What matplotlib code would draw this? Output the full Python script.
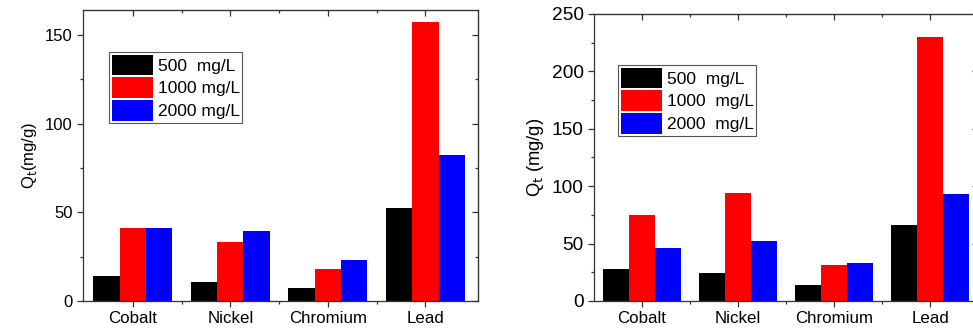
import numpy as np
import matplotlib.pyplot as plt
from matplotlib.ticker import MultipleLocator, FixedLocator

plt.rcParams['font.family'] = ['Liberation Sans', 'DejaVu Sans']

metals = ["Cobalt", "Nickel", "Chromium", "Lead"]
conc_labels = ["500  mg/L", "1000 mg/L", "2000 mg/L"]
conc_labels_b = ["500  mg/L", "1000  mg/L", "2000  mg/L"]

# left panel Qt (mg/g)
left_500 = [14, 10.5, 7.3, 52.3]
left_1000 = [41, 33, 18.2, 157]
left_2000 = [41, 39.6, 22.9, 82]

# right panel Qt (mg/g)
right_500 = [28, 24.7, 13.7, 66]
right_1000 = [75, 93.8, 31.4, 230]
right_2000 = [46, 52, 32.8, 93.5]

colors = ["#000000", "#ff0000", "#0000ff"]


def style_axes(ax, ymax, ymajor, xlim, ticksize):
    x = np.arange(len(metals))
    ax.set_xlim(*xlim)
    ax.set_ylim(0, ymax)
    ax.set_xticks(x)
    ax.set_xticklabels(metals, fontsize=12.2)
    ax.xaxis.set_minor_locator(FixedLocator(x[:-1] + 0.5))
    ax.yaxis.set_major_locator(MultipleLocator(ymajor))
    ax.yaxis.set_minor_locator(MultipleLocator(ymajor / 2))
    ax.tick_params(axis='y', labelsize=ticksize)
    ax.tick_params(which='major', direction='out', length=4, width=0.9,
                   color='#333333')
    ax.tick_params(which='minor', direction='out', length=2.5, width=0.9,
                   color='#333333')
    for s in ax.spines.values():
        s.set_linewidth(0.9)
        s.set_color('#333333')
    # inward ticks on top and right
    top = ax.secondary_xaxis('top')
    top.set_xticks(x)
    top.xaxis.set_minor_locator(FixedLocator(x[:-1] + 0.5))
    top.tick_params(which='both', direction='in', labeltop=False,
                    width=0.9, color='#333333')
    top.tick_params(which='major', length=4)
    top.tick_params(which='minor', length=2.5)
    rt = ax.secondary_yaxis('right')
    rt.yaxis.set_major_locator(MultipleLocator(ymajor))
    rt.yaxis.set_minor_locator(MultipleLocator(ymajor / 2))
    rt.tick_params(which='both', direction='in', labelright=False,
                   width=0.9, color='#333333')
    rt.tick_params(which='major', length=4)
    rt.tick_params(which='minor', length=2.5)


def draw_bars(ax, series, labels):
    x = np.arange(len(metals))
    w = 0.27
    for i, (vals, c, lab) in enumerate(zip(series, colors, labels)):
        ax.bar(x + (i - 1) * w, vals, w, color=c, label=lab, edgecolor='none')


def add_legend(ax, anchor):
    leg = ax.legend(loc='upper left', bbox_to_anchor=anchor,
                    borderaxespad=0, fontsize=12.5, handlelength=2.4,
                    handleheight=1.45, labelspacing=0.12, borderpad=0.15,
                    handletextpad=0.25, fancybox=False, framealpha=1)
    leg.get_frame().set_edgecolor('#555555')
    leg.get_frame().set_linewidth(0.8)


fig = plt.figure(figsize=(9.73, 3.3), dpi=100)

ax1 = fig.add_axes([0.0853, 0.0879, 0.4060, 0.8818])
draw_bars(ax1, [left_500, left_1000, left_2000], conc_labels)
style_axes(ax1, 164, 50, (-0.51, 3.54), 12)
ax1.set_ylabel(r"Q$_\mathrm{t}$(mg/g)", fontsize=12, labelpad=4)
add_legend(ax1, (0.066, 0.856))

ax2 = fig.add_axes([0.6105, 0.0879, 0.3947, 0.8697])
draw_bars(ax2, [right_500, right_1000, right_2000], conc_labels_b)
style_axes(ax2, 250, 50, (-0.5, 3.5), 13.8)
ax2.set_ylabel(r"Q$_\mathrm{t}$ (mg/g)", fontsize=13.2, labelpad=4)
add_legend(ax2, (0.063, 0.822))

fig.savefig("out.png", dpi=100)
